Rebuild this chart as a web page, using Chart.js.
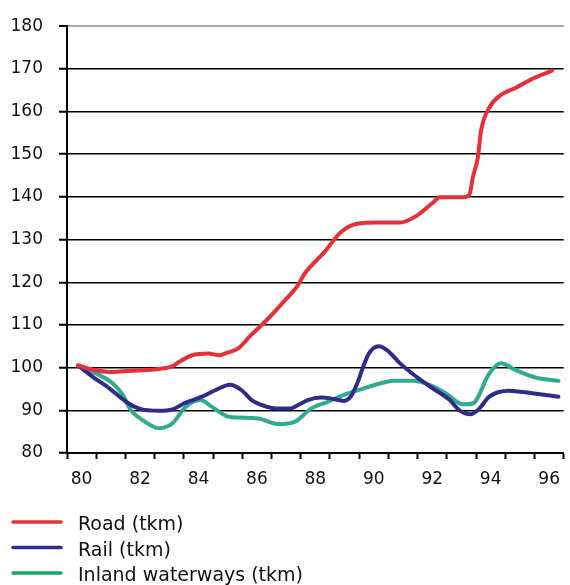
<!DOCTYPE html>
<html>
<head>
<meta charset="utf-8">
<script src="https://cdn.jsdelivr.net/npm/chart.js@4/dist/chart.umd.min.js"></script>
<style>
  html, body { margin: 0; padding: 0; background: #ffffff; }
  #wrap { width: 570px; height: 585px; position: relative; }
</style>
</head>
<body>
<div id="wrap"><canvas id="c" width="570" height="585"></canvas></div>
<script>
// ---- data (index, 1980 = 100) ----
const yearTicks = [80, 81, 82, 83, 84, 85, 86, 87, 88, 89, 90, 91, 92, 93, 94, 95, 96];
const yTicks = [80, 90, 100, 110, 120, 130, 140, 150, 160, 170, 180];

const seriesNames = ['Road (tkm)', 'Rail (tkm)', 'Inland waterways (tkm)'];

const roadYears  = [79.88, 80.39, 80.96, 81.52, 82.09, 82.65, 83.10, 83.33, 83.78, 84.35, 84.69, 84.95, 85.36, 85.82, 86.27, 86.95, 87.40, 87.63, 88.30, 88.87, 89.43, 90.11, 90.90, 91.47, 92.03, 92.26, 93.05, 93.27, 93.39, 93.56, 93.67, 93.95, 94.29, 94.86, 95.53, 96.10];
const roadValues = [100.5, 99.5, 99.0, 99.2, 99.4, 99.7, 100.3, 101.3, 102.9, 103.3, 102.9, 103.4, 104.5, 107.8, 110.7, 115.7, 119.3, 122.0, 127.0, 131.7, 133.7, 134.0, 134.0, 135.6, 138.7, 139.9, 139.9, 140.5, 144.6, 149.2, 155.5, 160.9, 163.6, 165.6, 168.0, 169.6];

const railYears  = [79.88, 80.39, 80.96, 81.52, 81.97, 82.65, 83.10, 83.56, 84.12, 84.57, 85.08, 85.48, 85.82, 86.27, 86.72, 87.12, 87.40, 87.74, 88.19, 88.53, 88.98, 89.21, 89.43, 89.66, 89.83, 90.17, 90.45, 90.90, 91.47, 92.03, 92.60, 92.93, 93.33, 93.61, 93.95, 94.63, 95.42, 96.32];
const railValues = [100.5, 97.8, 95.1, 92.0, 90.4, 89.9, 90.2, 91.8, 93.2, 94.7, 96.0, 94.7, 92.4, 91.0, 90.4, 90.4, 91.2, 92.4, 93.0, 92.8, 92.2, 93.2, 96.3, 100.6, 103.3, 105.0, 104.1, 101.0, 97.8, 95.1, 92.4, 90.0, 89.1, 90.4, 93.2, 94.6, 94.0, 93.2];

const inlandYears  = [79.88, 80.62, 81.07, 81.41, 81.69, 82.09, 82.65, 83.10, 83.56, 84.07, 84.46, 85.03, 85.36, 86.04, 86.72, 87.29, 87.85, 88.42, 88.98, 89.54, 90.45, 90.68, 91.35, 91.92, 92.48, 93.05, 93.39, 93.95, 94.35, 94.86, 95.53, 96.32];
const inlandValues = [100.5, 98.2, 96.3, 93.6, 90.0, 87.7, 85.8, 86.9, 90.8, 92.4, 90.8, 88.5, 88.3, 88.1, 86.8, 87.3, 90.4, 92.0, 93.6, 94.9, 96.7, 96.9, 96.9, 95.9, 93.9, 91.4, 91.6, 98.6, 101.0, 99.4, 97.7, 96.9];

// ---- styles ----
const lineColors   = ['#e5303a', '#2f2b88', '#2fac8e'];
const legendColors = ['#e5303a', '#2f2f8a', '#13a862'];
const FONT = '"DejaVu Sans", Verdana, sans-serif';

function pts(xs, ys) { return xs.map((x, i) => ({ x: x, y: ys[i] })); }

const legendPlugin = {
  id: 'customLegend',
  afterDraw(chart) {
    const ctx = chart.ctx;
    ctx.save();
    const baselines = [530, 555.5, 581];
    seriesNames.forEach((name, i) => {
      const yLine = baselines[i] - 8;
      ctx.strokeStyle = legendColors[i];
      ctx.lineWidth = 3.5;
      ctx.lineCap = 'round';
      ctx.beginPath();
      ctx.moveTo(13, yLine);
      ctx.lineTo(61, yLine);
      ctx.stroke();
      ctx.fillStyle = '#111111';
      ctx.font = '19px ' + FONT;
      ctx.textBaseline = 'alphabetic';
      ctx.textAlign = 'left';
      ctx.fillText(name, 78, baselines[i]);
    });
    ctx.restore();
  }
};

new Chart(document.getElementById('c'), {
  type: 'line',
  data: {
    datasets: [
      { label: seriesNames[0], data: pts(roadYears, roadValues), borderColor: lineColors[0], backgroundColor: lineColors[0] },
      { label: seriesNames[1], data: pts(railYears, railValues), borderColor: lineColors[1], backgroundColor: lineColors[1] },
      { label: seriesNames[2], data: pts(inlandYears, inlandValues), borderColor: lineColors[2], backgroundColor: lineColors[2] }
    ]
  },
  options: {
    responsive: false,
    animation: false,
    devicePixelRatio: 1,
    layout: { padding: { left: 0, right: 2, top: 25, bottom: 0 } },
    elements: {
      point: { radius: 0 },
      line: { borderWidth: 4, cubicInterpolationMode: 'monotone', borderCapStyle: 'round', borderJoinStyle: 'round' }
    },
    plugins: {
      legend: { display: false },
      tooltip: { enabled: false }
    },
    scales: {
      x: {
        type: 'linear',
        min: 79.5,
        max: 96.5,
        afterBuildTicks(scale) { scale.ticks = yearTicks.map(v => ({ value: v })); },
        afterFit(scale) { scale.height = 132; },
        border: { display: true, color: '#000000', width: 2 },
        grid: { offset: true, drawOnChartArea: false, drawTicks: true, tickLength: 6, tickColor: '#000000', tickWidth: 2 },
        ticks: {
          autoSkip: false,
          maxRotation: 0,
          padding: 10,
          color: '#111111',
          font: { family: FONT, size: 17 },
          callback: (v) => (v % 2 === 0 ? String(v) : '')
        }
      },
      y: {
        type: 'linear',
        min: 80,
        max: 180,
        afterBuildTicks(scale) { scale.ticks = yTicks.map(v => ({ value: v })); },
        afterFit(scale) { scale.width = 67; },
        border: { display: true, color: '#000000', width: 2 },
        grid: {
          color: (c) => (c.tick && c.tick.value === 180 ? '#a8a8a8' : '#000000'),
          lineWidth: (c) => (c.tick && c.tick.value === 180 ? 2 : 1.5),
          drawTicks: true,
          tickLength: 8,
          tickColor: '#000000',
          tickWidth: 2
        },
        ticks: {
          padding: 16,
          color: '#111111',
          font: { family: FONT, size: 17 }
        }
      }
    }
  },
  plugins: [legendPlugin]
});
</script>
</body>
</html>
